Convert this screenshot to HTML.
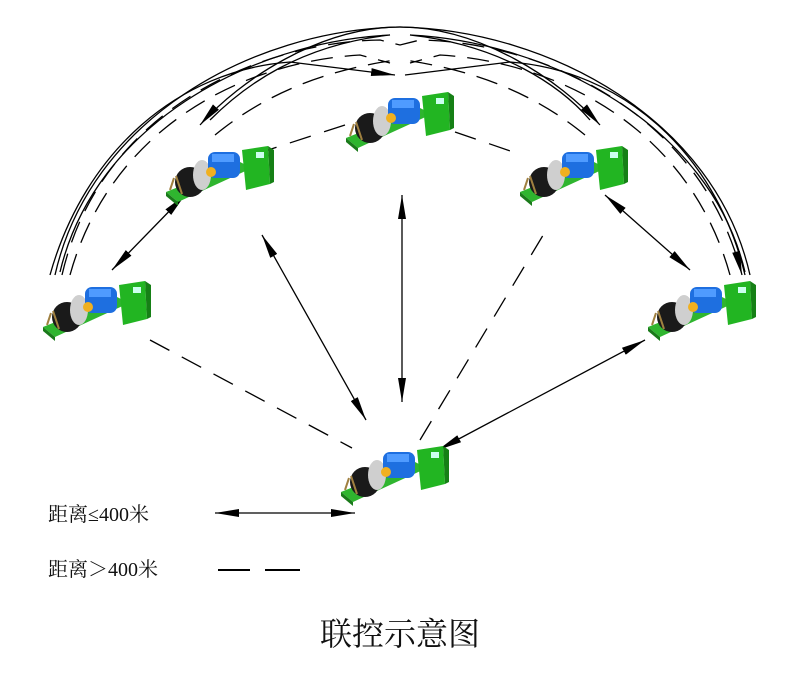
<!DOCTYPE html>
<html><head><meta charset="utf-8"><style>
html,body{margin:0;padding:0;background:#fff;width:800px;height:694px;overflow:hidden}
svg{display:block}
.t{font-family:"Liberation Serif","Noto Serif CJK SC",serif;fill:#111}
</style></head><body>
<svg width="800" height="694" viewBox="0 0 800 694" xmlns="http://www.w3.org/2000/svg">
<defs>
<marker id="a" viewBox="0 0 24 8" refX="24" refY="4" markerWidth="24" markerHeight="8" markerUnits="userSpaceOnUse" orient="auto-start-reverse"><path d="M0,0 L24,4 L0,8 Z" fill="#000"/></marker>
<g id="m">
<polygon points="0,50 74,20 86,26 12,60" fill="#2fb52f"/>
<polygon points="0,50 12,60 12,64 0,54" fill="#1a7a1a"/>
<ellipse cx="24" cy="40" rx="15" ry="15" fill="#1a1a1a"/>
<ellipse cx="36" cy="33" rx="9" ry="15" fill="#cfcfcf"/>
<rect x="42" y="10" width="32" height="26" rx="7" fill="#1e6fe0"/>
<rect x="46" y="12" width="22" height="8" fill="#4f9bff"/>
<circle cx="45" cy="30" r="5" fill="#f0b020"/>
<polygon points="76,8 102,4 104,42 80,48" fill="#22b522"/>
<polygon points="102,4 108,8 108,40 104,42" fill="#168016"/>
<rect x="90" y="10" width="8" height="6" fill="#cfe"/>
<path d="M8,36 L4,48 M10,34 L16,52" stroke="#a08040" stroke-width="2"/>
</g>
</defs>
<g fill="none" stroke="#000" stroke-width="1.3">
<!-- solid arcs -->
<path d="M55,275 C90,120 250,30 400,27 C480,27 560,80 600,125" marker-end="url(#a)"/>
<path d="M750,275 C715,120 550,30 400,27 C320,27 240,80 200,125" marker-end="url(#a)"/>
<path d="M60,272 C95,125 250,42 390,35 C300,45 245,85 210,120"/>
<path d="M745,272 C710,125 550,42 410,35 C500,45 560,85 590,120"/>
<path d="M50,275 C85,150 180,70 290,62 L395,75" marker-end="url(#a)"/>
<path d="M745,275 C715,150 620,70 510,62 L405,75"/>
<!-- dashed arcs -->
<g stroke-dasharray="22,12">
<path d="M62,275 C100,110 260,42 380,40 L400,45 L420,40 C540,42 700,110 742,275" marker-end="url(#a)"/>
<path d="M70,275 C110,130 240,62 360,55 L390,63"/>
<path d="M730,275 C690,130 560,62 440,55 L410,63"/>
<path d="M215,135 C270,90 330,70 395,60"/>
<path d="M585,135 C530,90 470,70 405,60"/>
</g>
<!-- solid straight -->
<path d="M185,195 L112,270" marker-start="url(#a)" marker-end="url(#a)"/>
<path d="M605,195 L690,270" marker-start="url(#a)" marker-end="url(#a)"/>
<path d="M262,235 L366,420" marker-start="url(#a)" marker-end="url(#a)"/>
<path d="M402,195 L402,402" marker-start="url(#a)" marker-end="url(#a)"/>
<path d="M645,340 L438,450" marker-start="url(#a)" marker-end="url(#a)"/>
<!-- dashed straight -->
<g stroke-dasharray="22,14">
<path d="M150,340 L352,448"/>
<path d="M345,125 L262,152"/>
<path d="M455,132 L522,155"/>
<path d="M420,440 L545,232"/>
</g>
<!-- legend -->
<path d="M215,513 L355,513" marker-start="url(#a)" marker-end="url(#a)"/>
<path d="M218,570 L250,570 M265,570 L300,570" stroke-width="2"/>
</g>
<use href="#m" x="346" y="88"/>
<use href="#m" x="166" y="142"/>
<use href="#m" x="520" y="142"/>
<use href="#m" x="43" y="277"/>
<use href="#m" x="648" y="277"/>
<use href="#m" x="341" y="442"/>
<text class="t" x="48" y="521" font-size="20">距离≤400米</text>
<text class="t" x="48" y="576" font-size="20">距离＞400米</text>
<text class="t" x="400" y="645" font-size="32" text-anchor="middle">联控示意图</text>
</svg>
</body></html>
